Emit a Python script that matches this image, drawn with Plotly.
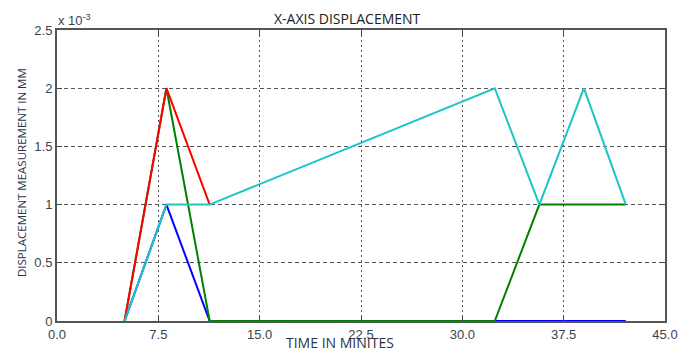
import plotly.graph_objects as go

time_min = [5.0, 8.1, 11.3, 32.4, 35.7, 39.0, 42.1]
red_mm = [0.0, 2.0e-3, 1.0e-3, None, None, None, None]
blue_mm = [0.0, 1.0e-3, 0.0, 0.0, 0.0, 0.0, 0.0]
green_mm = [0.0, 2.0e-3, 0.0, 0.0, 1.0e-3, 1.0e-3, 1.0e-3]
cyan_mm = [0.0, 1.0e-3, 1.0e-3, 2.0e-3, 1.0e-3, 2.0e-3, 1.0e-3]

x_ticks = [0, 7.5, 15, 22.5, 30, 37.5, 45]
x_ticktext = ["0.0", "7.5", "15.0", "22.5", "30.0", "37.5", "45.0"]
y_ticks = [0, 0.5e-3, 1.0e-3, 1.5e-3, 2.0e-3, 2.5e-3]
y_ticktext = ["0", "0.5", "1", "1.5", "2", "2.5"]

L, R, T, B = 57, 27, 30, 29
W, H = 692, 354
pw = W - L - R
ph = H - T - B

def px_x(px):
    return (px - L) / pw

def px_y(py):
    return (H - B - py) / ph

fig = go.Figure()
series = [("blue", blue_mm, "#0000ff"), ("green", green_mm, "#008000"),
          ("red", red_mm, "#ff0000"), ("cyan", cyan_mm, "#1cc4c4")]
for name, ys, col in series:
    fig.add_trace(go.Scatter(x=time_min, y=ys, mode="lines", name=name,
                             line=dict(color=col, width=2), showlegend=False))

tick_font = dict(family="Liberation Sans, Arial", size=13, color="#3a4250")
fig.update_layout(
    width=W, height=H,
    margin=dict(l=L, r=R, t=T, b=B),
    paper_bgcolor="white", plot_bgcolor="white",
    xaxis=dict(range=[0, 45], tickvals=x_ticks, ticktext=x_ticktext,
               showgrid=True, gridcolor="#555", griddash="2px,3px", gridwidth=1,
               ticks="inside", ticklen=5, tickcolor="#444",
               showline=True, linecolor="#555", linewidth=2, mirror="ticks",
               tickfont=tick_font, zeroline=False),
    yaxis=dict(range=[0, 2.5e-3], tickvals=y_ticks, ticktext=y_ticktext,
               showgrid=True, gridcolor="#555", griddash="4px,3px", gridwidth=1,
               ticks="inside", ticklen=5, tickcolor="#444",
               showline=True, linecolor="#555", linewidth=2, mirror="ticks",
               tickfont=tick_font, zeroline=False),
    annotations=[
        dict(text="X-AXIS DISPLACEMENT", x=px_x(347), y=px_y(18),
             xref="paper", yref="paper", xanchor="center", yanchor="middle",
             showarrow=False, font=dict(family="Open Sans", size=14, color="#222")),
        dict(text="TIME IN MINITES", x=px_x(340), y=px_y(347),
             xref="paper", yref="paper", xanchor="center", yanchor="middle",
             showarrow=False, font=dict(family="Open Sans", size=14, color="#2a3446")),
        dict(text="DISPLACEMENT MEASUREMENT IN MM", x=px_x(21), y=px_y(175),
             textangle=-90, xref="paper", yref="paper",
             xanchor="center", yanchor="middle", showarrow=False,
             font=dict(family="Open Sans", size=11.5, color="#2a3446")),
        dict(text="x 10<sup>-3</sup>", x=px_x(56), y=px_y(20),
             xref="paper", yref="paper", xanchor="left", yanchor="middle",
             showarrow=False, font=tick_font),
    ],
)
fig.write_html("out.html")
